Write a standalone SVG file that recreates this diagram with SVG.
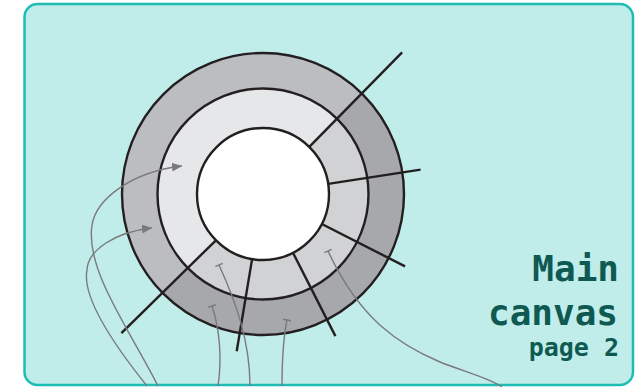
<svg xmlns="http://www.w3.org/2000/svg" width="640" height="387" viewBox="0 0 640 387">
<defs>
<style>
.ring{stroke:#231f20;stroke-width:2.4}
.rad{stroke:#231f20;stroke-width:2.4;fill:none;stroke-linecap:butt}
.conn{fill:none;stroke:#7a7a7c;stroke-width:1.4}
.lbl{font-family:"DejaVu Sans Mono","Liberation Mono",monospace;font-weight:bold;fill:#0e5a53;text-anchor:end}
</style>
<marker id="arrow" markerUnits="userSpaceOnUse" markerWidth="12" markerHeight="12" viewBox="0 -6 12 12" refX="10" refY="0" orient="auto">
<path d="M0,-4.5 L10,0 L0,4.5 Z" fill="#7a7a7c"/>
</marker>
<marker id="tee" markerUnits="userSpaceOnUse" markerWidth="12" markerHeight="12" viewBox="-6 -6 12 12" refX="0" refY="0" orient="auto">
<path d="M0,-4 L0,4" stroke="#7a7a7c" stroke-width="1.4"/>
</marker>
</defs>
<g id="frame">
<rect x="24.5" y="4" width="608.5" height="381" rx="13" fill="#c0ecea" stroke="#1dbdb5" stroke-width="2.5"/>
</g>
<g id="disc">
<circle cx="263" cy="194" r="141" fill="#bcbdc0"/>
<path d="M263,194 L361.8,93.4 A141,141 0 1 1 162.4,292.8 Z" fill="#a7a8ab"/>
<circle cx="263" cy="194" r="141" fill="none" class="ring"/>
<circle cx="263" cy="194" r="105.5" fill="#e6e7e9"/>
<path d="M263,194 L336.9,118.7 A105.5,105.5 0 1 1 187.7,267.9 Z" fill="#d1d2d4"/>
<circle cx="263" cy="194" r="105.5" fill="none" class="ring"/>
<circle cx="263" cy="194" r="66" fill="#ffffff" class="ring"/>
</g>
<g id="radials">
<line class="rad" x1="309.3" y1="146.9" x2="402.1" y2="52.4"/>
<line class="rad" x1="328.2" y1="183.9" x2="420.6" y2="169.6"/>
<line class="rad" x1="321.8" y1="224" x2="405.1" y2="266.4"/>
<line class="rad" x1="293" y1="252.8" x2="335.4" y2="336.1"/>
<line class="rad" x1="252.1" y1="259.1" x2="236.7" y2="351.3"/>
<line class="rad" x1="215.9" y1="240.3" x2="121.4" y2="333.1"/>
</g>
<g id="connectors">
<path class="conn" d="M158,386 C130,330 85,270 92,225 C96,200 130,172 182,166" marker-end="url(#arrow)"/>
<path class="conn" d="M147,386 C110,340 82,295 87,270 C88,250 115,232 152,228" marker-end="url(#arrow)"/>
<path class="conn" d="M212,306 C220,330 222,360 218,386" marker-start="url(#tee)"/>
<path class="conn" d="M219,265 C235,300 250,340 250,386" marker-start="url(#tee)"/>
<path class="conn" d="M287,320 C283,340 282,360 282,386" marker-start="url(#tee)"/>
<path class="conn" d="M328,251 C360,320 400,345 440,362 C465,372 490,378 502,387" marker-start="url(#tee)"/>
</g>
<g id="label">
<text class="lbl" x="619" y="281" font-size="36">Main</text>
<text class="lbl" x="618" y="325" font-size="36">canvas</text>
<text class="lbl" x="619" y="356" font-size="25">page 2</text>
</g>
</svg>
